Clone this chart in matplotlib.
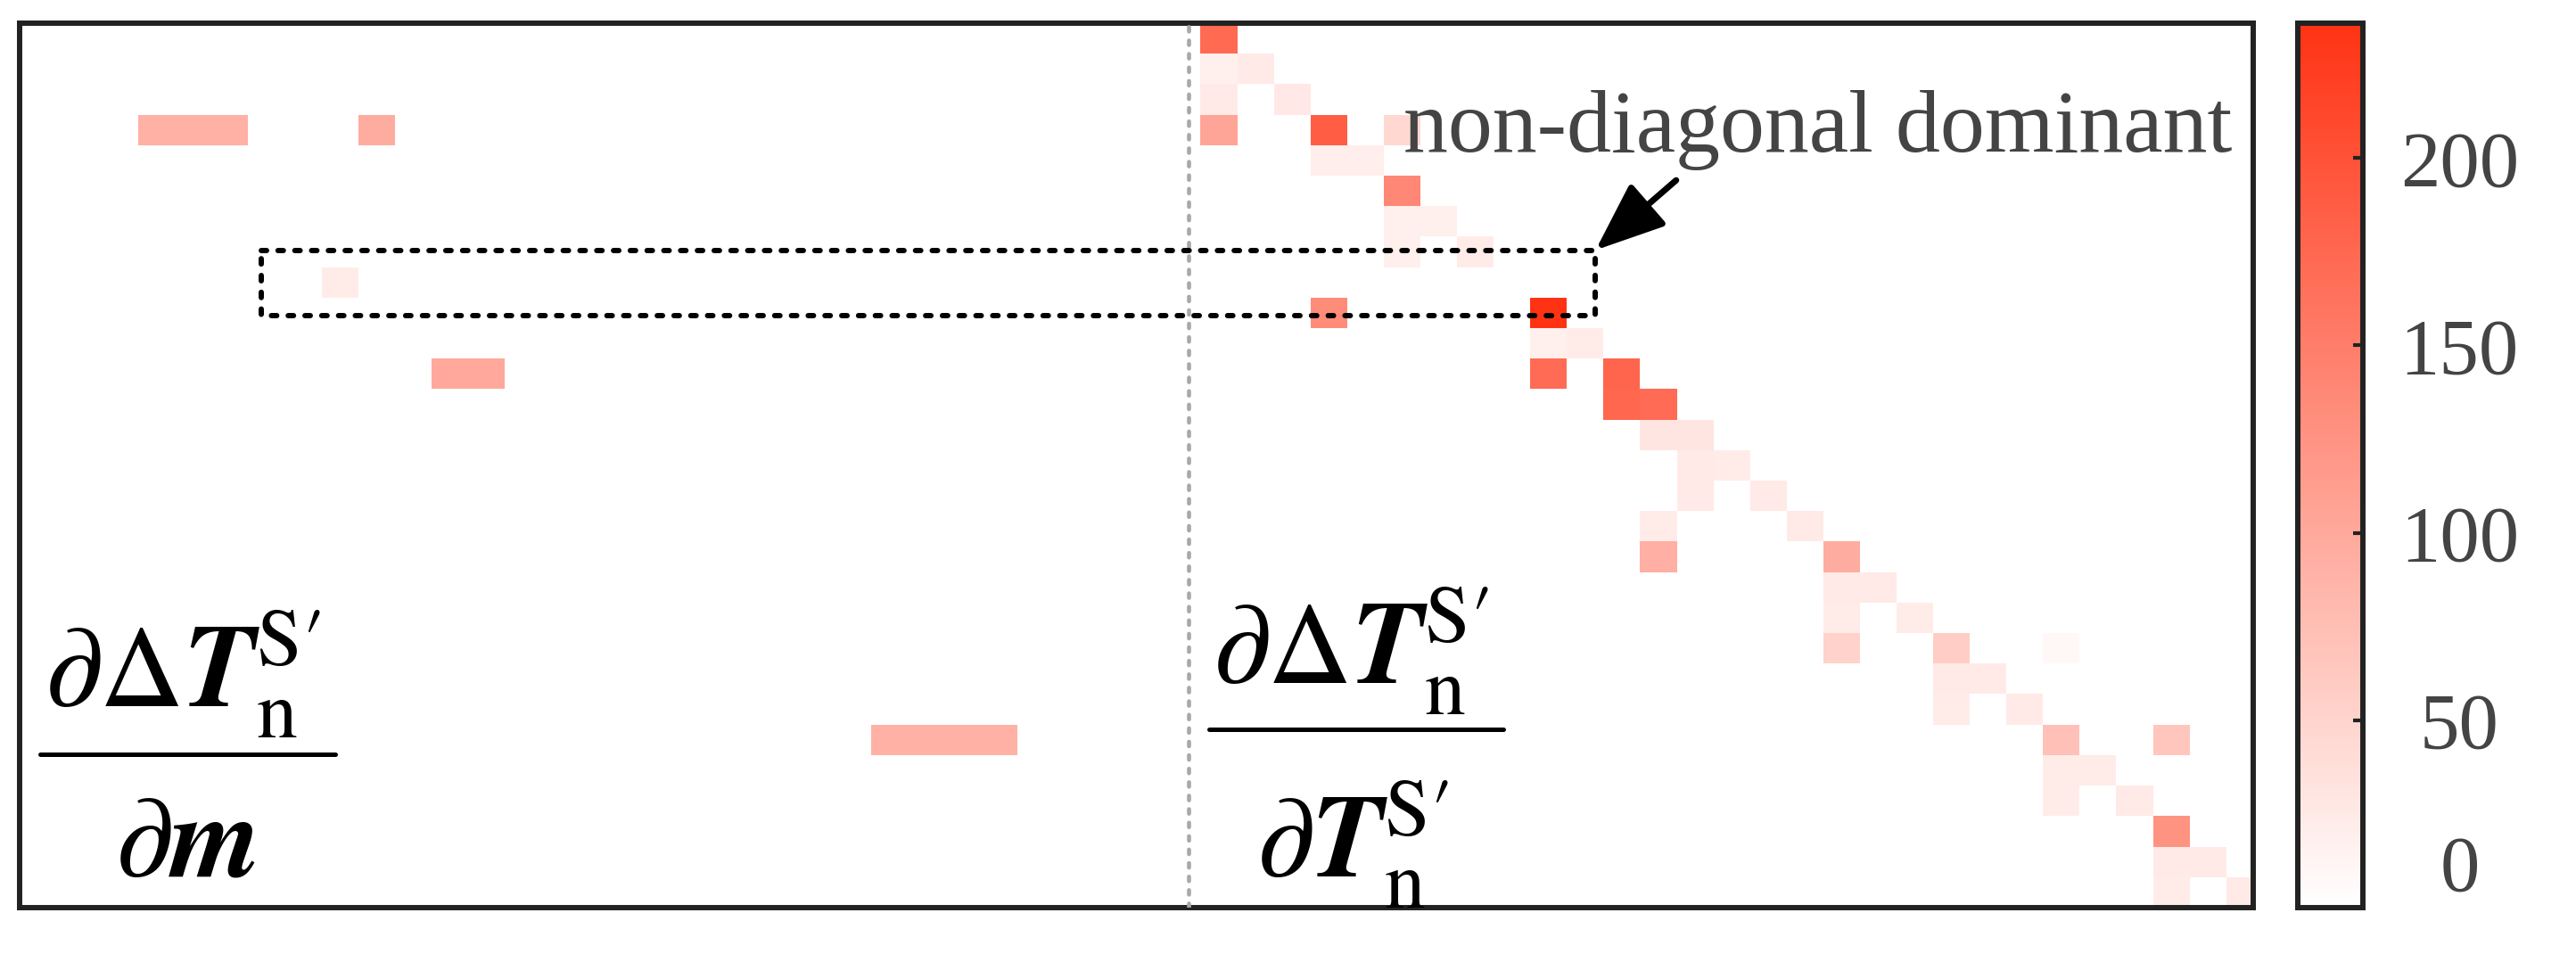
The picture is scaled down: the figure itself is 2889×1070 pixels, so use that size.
import numpy as np
import matplotlib
matplotlib.use("Agg")
import matplotlib.pyplot as plt
from matplotlib.colors import LinearSegmentedColormap
from matplotlib.patches import Rectangle

# ---------------- data ----------------
n_rows = 29
n_left = 32          # columns of dDeltaT/dm block
n_right = 29         # columns of dDeltaT/dT block

# left block (row, col, value)
left_rows = [3, 3, 3, 3, 8, 11, 11, 23, 23, 23, 23]
left_cols = [3, 4, 5, 9, 8, 11, 12, 23, 24, 25, 26]
left_vals = [90, 90, 90, 95, 22, 100, 100, 90, 90, 90, 90]

# right block (row, col within block, value)
right_rows = [0, 1, 1, 2, 2, 3, 3, 3, 4, 4, 5, 6, 6, 7, 7, 9, 9, 10, 10,
              11, 11, 12, 12, 13, 13, 14, 14, 15, 15, 16, 16, 17, 17,
              18, 18, 19, 19, 20, 20, 20, 21, 21, 22, 22, 23, 23, 24, 24,
              25, 25, 26, 27, 27, 28, 28]
right_cols = [0, 0, 1, 0, 2, 0, 3, 5, 3, 4, 5, 5, 6, 5, 7, 3, 9, 9, 10,
              9, 11, 11, 12, 12, 13, 13, 14, 13, 15, 12, 16, 12, 17,
              17, 18, 17, 19, 17, 20, 23, 20, 21, 20, 22, 23, 26, 23, 24,
              23, 25, 26, 26, 27, 26, 28]
right_vals = [172, 18, 24, 24, 26, 104, 186, 45, 20, 20, 138, 18, 18, 18, 22, 134, 236, 18, 22,
              170, 178, 176, 170, 30, 30, 24, 22, 24, 24, 22, 24, 92, 95,
              24, 24, 22, 22, 52, 58, 8, 24, 24, 22, 24, 72, 66, 22, 22,
              22, 24, 125, 24, 24, 22, 24]

cbar_ticks = [0, 50, 100, 150, 200]
cbar_labels = ['0', '50', '100', '150', '200']
vmax = 236

# ---------------- matrix ----------------
M = np.zeros((n_rows, n_left + n_right))
for r, c, v in zip(left_rows, left_cols, left_vals):
    M[r, c] = v
for r, c, v in zip(right_rows, right_cols, right_vals):
    M[r, n_left + c] = v

plt.rcParams['font.family'] = ['Liberation Serif', 'DejaVu Serif']
plt.rcParams['mathtext.fontset'] = 'stix'

W, H = 2889, 1070
fig = plt.figure(figsize=(W / 100, H / 100), dpi=100)
ax = fig.add_axes([22 / W, 1 - 1018 / H, 2505 / W, 992 / H])

cmap = LinearSegmentedColormap.from_list('wr', ['#FFFFFF', '#FF3314'])
im = ax.imshow(M, cmap=cmap, vmin=0, vmax=vmax, aspect='auto',
               interpolation='nearest',
               extent=(0, n_left + n_right, n_rows, 0))
ax.set_xlim(-0.24, n_left + n_right - 0.24)
ax.set_ylim(n_rows, 0)
ax.set_xticks([])
ax.set_yticks([])
for s in ax.spines.values():
    s.set_linewidth(4.3)
    s.set_color('#222222')

# separator between blocks
ax.axvline(31.68, color='#A8A8A8', lw=3.3, linestyle=(0, (1.1, 2.2)),
           dash_capstyle='round', zorder=3)

# dotted box
ax.add_patch(Rectangle((6.36, 7.45), 42.78 - 6.36, 9.6 - 7.45, fill=False,
                       ec='black', lw=4.3, linestyle=(0, (1.0, 2.15)),
                       capstyle='round', zorder=4))

# annotation
ax.text(37.55, 4.21, 'non-diagonal dominant', fontsize=72, color='#444444',
        ha='left', va='baseline', zorder=5)
ax.annotate('', xy=(42.80, 7.44), xytext=(45.0, 5.15),
            arrowprops=dict(arrowstyle='-|>,head_length=0.8,head_width=0.32',
                            lw=5, color='black', mutation_scale=60,
                            shrinkA=0, shrinkB=0), zorder=5)

# fraction labels
num = r'$\partial\Delta\mathbfit{T}_{\mathrm{n}}^{\mathrm{S}\prime}$'
den_m = r'$\partial\mathbfit{m}$'
den_t = r'$\partial\mathbfit{T}_{\mathrm{n}}^{\mathrm{S}\prime}$'
fs = 94
ax.text(4.22, 22.43, num, fontsize=fs, ha='center', va='baseline', color='black')
ax.plot([0.32, 8.38], [23.98, 23.98], color='black', lw=3.6, solid_capstyle='round')
ax.text(4.29, 27.95, den_m, fontsize=fs, ha='center', va='baseline', color='black')

ax.text(36.11, 21.67, num, fontsize=fs, ha='center', va='baseline', color='black')
ax.plot([32.24, 40.28], [23.16, 23.16], color='black', lw=3.6, solid_capstyle='round')
ax.text(36.16, 28.01, den_t, fontsize=fs, ha='center', va='baseline', color='black')

# colorbar
cax = fig.add_axes([2577 / W, 1 - 1018 / H, 73 / W, 992 / H])
cb = fig.colorbar(im, cax=cax)
cb.set_ticks(cbar_ticks, labels=cbar_labels)
cb.outline.set_linewidth(4.3)
cb.outline.set_edgecolor('#222222')
cax.tick_params(direction='in', length=8, width=3, color='#222222',
                labelcolor='#444444', labelsize=64, pad=78)
for lab in cax.get_yticklabels():
    lab.set_horizontalalignment('center')
    if lab.get_text() == '0':
        lab.set_verticalalignment('bottom')

fig.savefig('out.png', dpi=100)
